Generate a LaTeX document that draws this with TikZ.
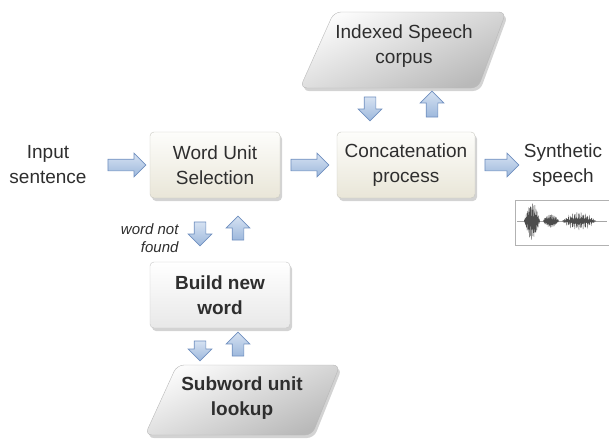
\documentclass[tikz,border=0pt]{standalone}
\usepackage{fontspec}
\setmainfont{Liberation Sans}
\usetikzlibrary{shapes.arrows,shadows}

\definecolor{txt}{HTML}{2E2E2E}
\definecolor{arrowlight}{HTML}{D6E2F2}
\definecolor{arrowdark}{HTML}{9DB8DC}
\definecolor{arrowedge}{HTML}{6F8FBF}
\definecolor{boxedge}{HTML}{C8C8C0}
\definecolor{beige}{HTML}{E9E6D8}
\definecolor{paper}{HTML}{FDFDFB}

\tikzset{
  flow/.style={single arrow, draw=arrowedge, line width=0.7pt,
    top color=arrowlight, bottom color=arrowdark,
    inner sep=5.5pt, single arrow head extend=6pt, minimum height=#1},
  flow/.default=38pt,
  shade/.style={drop shadow={opacity=0.35, shadow xshift=2pt, shadow yshift=-3pt}},
  bigfont/.style={font=\fontsize{19}{25}\selectfont},
  procbox/.style={rectangle, rounded corners=4pt, draw=boxedge, shade,
    top color=paper, bottom color=beige, minimum width=130pt,
    minimum height=66pt, align=center, text=txt, bigfont},
  greybox/.style={procbox, top color=white, bottom color=gray!18, draw=gray!45},
  datashape/.style={rounded corners=7pt, draw=gray!55, shade,
    top color=gray!3, bottom color=gray!55, shading angle=25},
  label/.style={text=txt, align=center, bigfont},
}

\begin{document}
\begin{tikzpicture}[x=1pt,y=-1pt]
\useasboundingbox (0,0) rectangle (609,442);

% data stores
\path[datashape] (334,12) -- (506,12) -- (478,88) -- (300,88) -- cycle;
\node[label] (corpus) at (404,46) {Indexed Speech\\corpus};

\path[datashape] (177,365) -- (340,365) -- (312,435) -- (145,435) -- cycle;
\node[label, font=\fontsize{19}{25}\selectfont\bfseries] (subword) at (242,398) {Subword unit\\lookup};

% processing boxes
\node[procbox] (wus) at (215,165) {Word Unit\\Selection};
\node[procbox, minimum width=138pt] (concat) at (406,165) {Concatenation\\process};
\node[greybox, minimum width=140pt, font=\fontsize{19}{25}\selectfont\bfseries] (build) at (220,295) {Build new\\word};

% plain text
\node[label] (input) at (48,165) {Input\\sentence};
\node[label] (synth) at (563,165) {Synthetic\\speech};
\node[text=txt, align=right, anchor=east, font=\fontsize{15}{18}\selectfont\itshape] (nf) at (182,238) {word not\\found};

% horizontal flow arrows
\node[flow] (a1) at (124,165) {};
\node[flow] (a2) at (307,165) {};
\node[flow=34pt] (a3) at (499,165) {};

% vertical flow arrows
\node[flow=24pt, shape border rotate=270] (d1) at (370,106) {};
\node[flow=26pt, shape border rotate=90] (u1) at (432,107) {};
\node[flow=24pt, shape border rotate=270] (d2) at (200,231) {};
\node[flow=24pt, shape border rotate=90] (u2) at (238,231) {};
\node[flow=20pt, shape border rotate=270] (d3) at (200,348) {};
\node[flow=24pt, shape border rotate=90] (u3) at (238,347) {};

% speech waveform
\node[draw=gray!60, line width=0.5pt, minimum width=94pt, minimum height=45pt, inner sep=0pt] (wave) at (562,222.5) {};
\draw[gray!70, line width=0.4pt] (517,221) -- (607,221);
\begin{scope}[black!70, line width=0.35pt]
\draw plot[domain=0:16, samples=220] ({524+\x}, {221 + 19*sin(11.25*\x)*sin(\x*950)*(0.6+0.4*cos(\x*330))});
\draw plot[domain=0:16, samples=200] ({543+\x}, {221 + 7*sin(11.25*\x)*sin(\x*870)*(0.6+0.4*cos(\x*290))});
\draw plot[domain=0:34, samples=380] ({562+\x}, {221 + 9*sin(5.3*\x)*sin(\x*430)*(0.6+0.4*cos(\x*170))});
\end{scope}
\end{tikzpicture}
\end{document}
